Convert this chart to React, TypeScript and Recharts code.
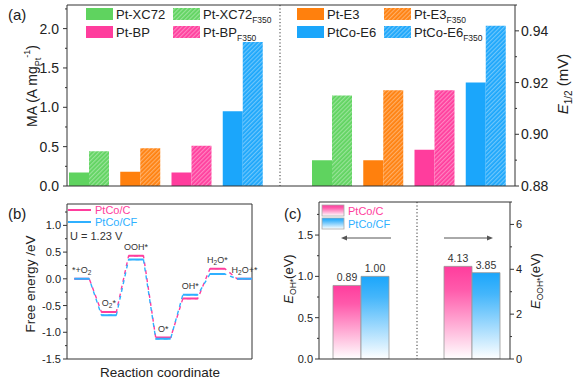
import React from 'react';
import {
  BarChart,
  Bar,
  Cell,
  XAxis,
  YAxis,
  ReferenceLine,
  LabelList,
  LineChart,
  Line,
} from 'recharts';

const W = 577;
const H = 384;
const FONT = 'Arial, "Liberation Sans", Helvetica, sans-serif';
const INK = '#222';

// (a) mass activity and half-wave potential
const catalysts = ['Pt-XC72', 'Pt-E3', 'Pt-BP', 'PtCo-E6'];
const maPristine = [0.17, 0.18, 0.17, 0.95];
const maF350 = [0.44, 0.48, 0.51, 1.83];
const e12Pristine = [0.89, 0.89, 0.894, 0.92];
const e12F350 = [0.915, 0.917, 0.917, 0.942];
const maTicks = [0, 0.25, 0.5, 0.75, 1, 1.25, 1.5, 1.75, 2, 2.25];
const maMajor = [0, 0.5, 1, 1.5, 2];
const e12Ticks = [0.88, 0.89, 0.9, 0.91, 0.92, 0.93, 0.94, 0.95];
const e12Major = [0.88, 0.9, 0.92, 0.94];

// (b) free energy diagram at U = 1.23 V
const steps = ['*+O2', 'O2*', 'OOH*', 'O*', 'OH*', 'H2O*', 'H2O+*'];
const energyC = [0, -0.62, 0.43, -1.1, -0.37, 0.19, 0];
const energyCF = [0, -0.68, 0.36, -1.12, -0.3, 0.09, 0];
const feTicks = [-1.5, -1.25, -1, -0.75, -0.5, -0.25, 0, 0.25, 0.5, 0.75, 1, 1.25];
const feMajor = [-1.5, -1, -0.5, 0, 0.5, 1];

// (c) adsorption energies
const eOH = { c: 0.89, cf: 1.0 };
const eOOH = { c: 4.13, cf: 3.85 };
const ohTicks = [0, 0.25, 0.5, 0.75, 1, 1.25, 1.5, 1.75];
const ohMajor = [0, 0.5, 1, 1.5];
const oohTicks = [0, 1, 2, 3, 4, 5, 6, 7];
const oohMajor = [0, 2, 4, 6];

const colors = ['#5fd35f', '#ff800d', '#ff3d9d', '#1ba6fb'];
const PINK = '#ff3d9d';
const BLUE = '#2fb0ff';

const maData = catalysts.map((c, i) => ({ cat: c, p: maPristine[i], f: maF350[i] }));
const e12Data = catalysts.map((c, i) => ({ cat: c, p: e12Pristine[i], f: e12F350[i] }));

const FLAT = 0.55;
const pathOf = (es: number[]) => es.flatMap((e, i) => [{ x: i, y: e }, { x: i + FLAT, y: e }]);
const flatsOf = (es: number[]) =>
  es.flatMap((e, i) => [{ x: i, y: e }, { x: i + FLAT, y: e }, { x: i + FLAT + 0.01, y: null }]);
const stepLabelData = steps.map((s, i) => ({
  x: i + FLAT / 2,
  y: Math.max(energyC[i], energyCF[i]),
  name: s,
}));

const axisTick =
  (side: 'left' | 'right', majors: number[], digits: number, fontSize: number, gap: number) =>
  (props: any) => {
    const { x, y, payload } = props;
    const v = payload.value as number;
    const major = majors.some((m) => Math.abs(m - v) < 1e-6);
    const s = side === 'left' ? -1 : 1;
    return (
      <g>
        <line x1={x} x2={x + s * (major ? 4 : 2)} y1={y} y2={y} stroke="#333" strokeWidth={1} />
        {major && (
          <text
            x={x + s * gap}
            y={y}
            dy="0.36em"
            textAnchor={side === 'left' ? 'end' : 'start'}
            fontSize={fontSize}
            fill={INK}
            fontFamily={FONT}
          >
            {v.toFixed(digits)}
          </text>
        )}
      </g>
    );
  };

// digits become subscripts (H2O*, O2*)
const StepLabel = (props: any) => {
  const { x, y, value } = props;
  const parts = String(value).split(/(\d)/).filter((p) => p !== '');
  let shifted = false;
  return (
    <text x={x} y={y - 6} textAnchor="middle" fontSize={9} fill="#333" fontFamily={FONT}>
      {parts.map((p, i) => {
        if (/\d/.test(p)) {
          shifted = true;
          return (
            <tspan key={i} dy={2.5} fontSize={6.5}>
              {p}
            </tspan>
          );
        }
        const dy = shifted ? -2.5 : 0;
        shifted = false;
        return (
          <tspan key={i} dy={dy}>
            {p}
          </tspan>
        );
      })}
    </text>
  );
};

const abs = (left: number, top: number): React.CSSProperties => ({
  position: 'absolute',
  left,
  top,
});

const Defs = () => (
  <svg width={0} height={0} style={{ position: 'absolute' }}>
    <defs>
      {colors.map((c, i) => (
        <pattern
          key={i}
          id={`hatch${i}`}
          patternUnits="userSpaceOnUse"
          width={3}
          height={3}
          patternTransform="rotate(45)"
        >
          <rect width={3} height={3} fill={c} />
          <line x1={0.7} y1={0} x2={0.7} y2={3} stroke="#fff" strokeWidth={1} strokeOpacity={0.45} />
        </pattern>
      ))}
      <linearGradient id="gradPink" x1="0" y1="0" x2="0" y2="1">
        <stop offset="0" stopColor="#ff3d9d" />
        <stop offset="0.25" stopColor="#ff5aab" />
        <stop offset="1" stopColor="#ffffff" />
      </linearGradient>
      <linearGradient id="gradBlue" x1="0" y1="0" x2="0" y2="1">
        <stop offset="0" stopColor="#1ba6fb" />
        <stop offset="0.25" stopColor="#45b6fb" />
        <stop offset="1" stopColor="#ffffff" />
      </linearGradient>
    </defs>
  </svg>
);

const Overlay = () => {
  const legA = [
    { x: 86, y: 8, i: 0, name: 'Pt-XC72' },
    { x: 86, y: 26, i: 2, name: 'Pt-BP' },
    { x: 297, y: 8, i: 1, name: 'Pt-E3' },
    { x: 297, y: 26, i: 3, name: 'PtCo-E6' },
  ];
  return (
    <svg width={W} height={H} style={{ position: 'absolute', left: 0, top: 0, pointerEvents: 'none' }} fontFamily={FONT}>
      {/* panel letters */}
      <text x={8} y={20} fontSize={15} fill={INK}>(a)</text>
      <text x={8} y={219} fontSize={15} fill={INK}>(b)</text>
      <text x={284} y={219} fontSize={15} fill={INK}>(c)</text>

      {/* (a) legend */}
      {legA.map((l) => (
        <g key={l.name}>
          <rect x={l.x} y={l.y} width={27} height={12} fill={colors[l.i]} />
          <text x={l.x + 30} y={l.y + 11} fontSize={13} fill={INK}>{l.name}</text>
          <rect x={l.x + 87} y={l.y} width={27} height={12} fill={`url(#hatch${l.i})`} />
          <text x={l.x + 117} y={l.y + 11} fontSize={13} fill={INK}>
            {l.name}
            <tspan dy={4} fontSize={8.5}>F350</tspan>
          </text>
        </g>
      ))}

      {/* (a) axis titles */}
      <text transform="translate(37,86) rotate(-90)" textAnchor="middle" fontSize={14} fill={INK}>
        MA (A mg<tspan dy={4} fontSize={9}>Pt</tspan>
        <tspan dy={-11} fontSize={9}>-1</tspan>
        <tspan dy={7}>)</tspan>
      </text>
      <text transform="translate(568,84) rotate(-90)" textAnchor="middle" fontSize={15} fill={INK}>
        <tspan fontStyle="italic">E</tspan>
        <tspan dy={4} fontSize={10}>1/2</tspan>
        <tspan dy={-4}> (mV)</tspan>
      </text>

      {/* (b) legend and titles */}
      <line x1={68} x2={91} y1={210} y2={210} stroke={PINK} strokeWidth={2} />
      <text x={95} y={214} fontSize={11} fill={PINK}>PtCo/C</text>
      <line x1={68} x2={91} y1={222} y2={222} stroke={BLUE} strokeWidth={2} />
      <text x={95} y={226} fontSize={11} fill={BLUE}>PtCo/CF</text>
      <text x={70} y={240} fontSize={11} fill="#333">U = 1.23 V</text>
      <text transform="translate(35,284) rotate(-90)" textAnchor="middle" fontSize={13.5} fill={INK}>
        Free energy /eV
      </text>
      <text x={160} y={377} textAnchor="middle" fontSize={13.5} fill={INK}>Reaction coordinate</text>

      {/* (c) legend, arrows and titles */}
      <rect x={322} y={205} width={22} height={11} fill="url(#gradPink)" stroke="#aaa" strokeWidth={0.8} />
      <text x={348} y={215} fontSize={11} fill={PINK}>PtCo/C</text>
      <rect x={322} y={218} width={22} height={11} fill="url(#gradBlue)" stroke="#aaa" strokeWidth={0.8} />
      <text x={348} y={228} fontSize={11} fill={BLUE}>PtCo/CF</text>
      <line x1={345} x2={391} y1={238} y2={238} stroke="#555" strokeWidth={1} />
      <path d="M341,238 L347,235.5 L347,240.5 Z" fill="#555" />
      <line x1={444} x2={489} y1={238} y2={238} stroke="#555" strokeWidth={1} />
      <path d="M493,238 L487,235.5 L487,240.5 Z" fill="#555" />
      <text transform="translate(293,279) rotate(-90)" textAnchor="middle" fontSize={13} fill={INK}>
        <tspan fontStyle="italic">E</tspan>
        <tspan dy={3} fontSize={8.5}>OH*</tspan>
        <tspan dy={-3}>(eV)</tspan>
      </text>
      <text transform="translate(540,281) rotate(-90)" textAnchor="middle" fontSize={13} fill={INK}>
        <tspan fontStyle="italic">E</tspan>
        <tspan dy={3} fontSize={8.5}>OOH*</tspan>
        <tspan dy={-3}>(eV)</tspan>
      </text>
    </svg>
  );
};

export default function App() {
  const frame = { stroke: '#333', strokeWidth: 1 };
  return (
    <div
      style={{
        position: 'fixed',
        left: 0,
        top: 0,
        width: W,
        height: H,
        background: '#fff',
        fontFamily: FONT,
        overflow: 'hidden',
      }}
    >
      <Defs />

      {/* (a) left half: mass activity */}
      <div style={abs(0, 0)}>
        <BarChart width={W} height={H} data={maData} margin={{ top: 5, left: 27, right: 297, bottom: 197 }}
          barCategoryGap={6} barGap={0}>
          <XAxis dataKey="cat" height={1} tick={false} tickLine={false} axisLine={frame} padding={{ left: -4, right: 12 }} />
          <YAxis width={40} domain={[0, 2.3]} ticks={maTicks} interval={0} allowDataOverflow
            tick={axisTick('left', maMajor, 1, 14, 8)} tickLine={false} tickSize={0} tickMargin={0} axisLine={frame} />
          <ReferenceLine y={2.3} stroke="#333" />
          <Bar dataKey="p" isAnimationActive={false}>
            {maData.map((_, i) => <Cell key={i} fill={colors[i]} />)}
          </Bar>
          <Bar dataKey="f" isAnimationActive={false}>
            {maData.map((_, i) => <Cell key={i} fill={`url(#hatch${i})`} />)}
          </Bar>
        </BarChart>
      </div>

      {/* (a) right half: half-wave potential */}
      <div style={abs(0, 0)}>
        <BarChart width={W} height={H} data={e12Data} margin={{ top: 5, left: 279, right: 22, bottom: 197 }}
          barCategoryGap={6} barGap={0}>
          <XAxis dataKey="cat" height={1} tick={false} tickLine={false} axisLine={frame} padding={{ left: 26, right: 4 }} />
          <YAxis yAxisId="div" orientation="left" width={1} domain={[0, 1]} ticks={[0]} tick={false} tickLine={false}
            axisLine={{ stroke: '#333', strokeDasharray: '1.2 2.2' }} />
          <YAxis yAxisId="r" orientation="right" width={40} domain={[0.88, 0.95]} ticks={e12Ticks} interval={0} allowDataOverflow
            tick={axisTick('right', e12Major, 2, 14, 6)} tickLine={false} tickSize={0} tickMargin={0} axisLine={frame} />
          <ReferenceLine yAxisId="r" y={0.95} stroke="#333" />
          <Bar yAxisId="r" dataKey="p" isAnimationActive={false}>
            {e12Data.map((_, i) => <Cell key={i} fill={colors[i]} />)}
          </Bar>
          <Bar yAxisId="r" dataKey="f" isAnimationActive={false}>
            {e12Data.map((_, i) => <Cell key={i} fill={`url(#hatch${i})`} />)}
          </Bar>
        </BarChart>
      </div>

      {/* (b) free energy diagram */}
      <div style={abs(0, 0)}>
        <LineChart width={W} height={H} margin={{ top: 204, left: 27, right: 325, bottom: 24 }}>
          <XAxis dataKey="x" type="number" domain={[-0.27, 6.55]} allowDataOverflow height={1} tick={false}
            tickLine={false} axisLine={frame} />
          <YAxis width={40} domain={[-1.5, 1.4]} ticks={feTicks} interval={0} allowDataOverflow
            tick={axisTick('left', feMajor, 1, 11, 6)} tickLine={false} tickSize={0} tickMargin={0} axisLine={frame} />
          <ReferenceLine y={1.4} stroke="#333" />
          <ReferenceLine x={6.55} stroke="#333" />
          <Line data={pathOf(energyC)} dataKey="y" stroke={PINK} strokeWidth={1.4} strokeDasharray="4 4"
            dot={false} isAnimationActive={false} />
          <Line data={pathOf(energyCF)} dataKey="y" stroke={BLUE} strokeWidth={1.4} strokeDasharray="4 4"
            strokeDashoffset={4} dot={false} isAnimationActive={false} />
          <Line data={flatsOf(energyC)} dataKey="y" stroke={PINK} strokeWidth={2} dot={false} isAnimationActive={false} />
          <Line data={flatsOf(energyCF)} dataKey="y" stroke={BLUE} strokeWidth={2} dot={false} isAnimationActive={false} />
          <Line data={stepLabelData} dataKey="y" stroke="none" dot={false} isAnimationActive={false}>
            <LabelList dataKey="name" content={<StepLabel />} />
          </Line>
        </LineChart>
      </div>

      {/* (c) left: E_OH* */}
      <div style={abs(0, 0)}>
        <BarChart width={W} height={H} data={[{ cat: 'OH*', ...eOH }]} margin={{ top: 202, left: 279, right: 160, bottom: 24 }}
          barCategoryGap={14} barGap={0}>
          <XAxis dataKey="cat" height={1} tick={false} tickLine={false} axisLine={frame} padding={{ left: 0, right: 14 }} />
          <YAxis width={40} domain={[0, 1.9]} ticks={ohTicks} interval={0} allowDataOverflow
            tick={axisTick('left', ohMajor, 1, 11, 6)} tickLine={false} tickSize={0} tickMargin={0} axisLine={frame} />
          <ReferenceLine y={1.9} stroke="#333" />
          <Bar dataKey="c" fill="url(#gradPink)" stroke="#9a9a9a" strokeWidth={0.8} isAnimationActive={false}>
            <LabelList dataKey="c" position="top" offset={4} formatter={(v: any) => Number(v).toFixed(2)}
              style={{ fontSize: 10.5, fill: '#333', fontFamily: FONT }} />
          </Bar>
          <Bar dataKey="cf" fill="url(#gradBlue)" stroke="#9a9a9a" strokeWidth={0.8} isAnimationActive={false}>
            <LabelList dataKey="cf" position="top" offset={4} formatter={(v: any) => Number(v).toFixed(2)}
              style={{ fontSize: 10.5, fill: '#333', fontFamily: FONT }} />
          </Bar>
        </BarChart>
      </div>

      {/* (c) right: E_OOH* */}
      <div style={abs(0, 0)}>
        <BarChart width={W} height={H} data={[{ cat: 'OOH*', ...eOOH }]} margin={{ top: 202, left: 416, right: 27, bottom: 24 }}
          barCategoryGap={10} barGap={0}>
          <XAxis dataKey="cat" height={1} tick={false} tickLine={false} axisLine={frame} padding={{ left: 17, right: 0 }} />
          <YAxis yAxisId="div" orientation="left" width={1} domain={[0, 1]} ticks={[0]} tick={false} tickLine={false}
            axisLine={{ stroke: '#333', strokeDasharray: '1.2 2.2' }} />
          <YAxis yAxisId="r" orientation="right" width={40} domain={[0, 7]} ticks={oohTicks} interval={0} allowDataOverflow
            tick={axisTick('right', oohMajor, 0, 11, 6)} tickLine={false} tickSize={0} tickMargin={0} axisLine={frame} />
          <ReferenceLine yAxisId="r" y={7} stroke="#333" />
          <Bar yAxisId="r" dataKey="c" fill="url(#gradPink)" stroke="#9a9a9a" strokeWidth={0.8} isAnimationActive={false}>
            <LabelList dataKey="c" position="top" offset={4} formatter={(v: any) => Number(v).toFixed(2)}
              style={{ fontSize: 10.5, fill: '#333', fontFamily: FONT }} />
          </Bar>
          <Bar yAxisId="r" dataKey="cf" fill="url(#gradBlue)" stroke="#9a9a9a" strokeWidth={0.8} isAnimationActive={false}>
            <LabelList dataKey="cf" position="top" offset={4} formatter={(v: any) => Number(v).toFixed(2)}
              style={{ fontSize: 10.5, fill: '#333', fontFamily: FONT }} />
          </Bar>
        </BarChart>
      </div>

      <Overlay />
    </div>
  );
}
